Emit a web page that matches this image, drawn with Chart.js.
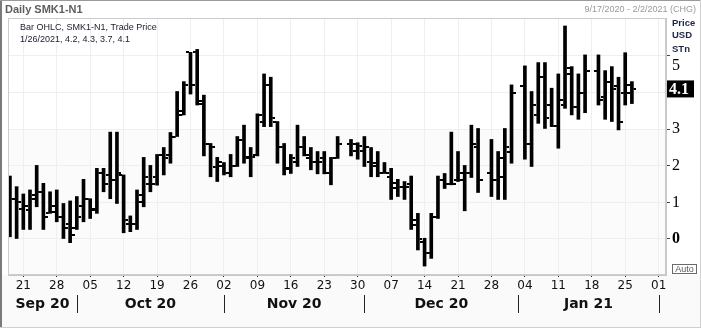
<!DOCTYPE html>
<html>
<head>
<meta charset="utf-8">
<script src="https://cdn.jsdelivr.net/npm/chart.js@4.4.1/dist/chart.umd.min.js"></script>
<style>
  html, body { margin: 0; padding: 0; background: #fff; }
  #wrap { width: 701px; height: 331px; }
</style>
</head>
<body>
<div id="wrap"><canvas id="chart" width="701" height="331"></canvas></div>
<script>
// daily OHLC, SMK1-N1 (exchange holidays are simply not in the list)
const dates = [
  '2020-09-17','2020-09-18',
  '2020-09-21','2020-09-22','2020-09-23','2020-09-24','2020-09-25',
  '2020-09-28','2020-09-29','2020-09-30','2020-10-01','2020-10-02',
  '2020-10-05','2020-10-06','2020-10-07','2020-10-08','2020-10-09',
  '2020-10-12','2020-10-13','2020-10-14','2020-10-15','2020-10-16',
  '2020-10-19','2020-10-20','2020-10-21','2020-10-22','2020-10-23',
  '2020-10-26','2020-10-27','2020-10-28','2020-10-29','2020-10-30',
  '2020-11-02','2020-11-03','2020-11-04','2020-11-05','2020-11-06',
  '2020-11-09','2020-11-10','2020-11-11','2020-11-12','2020-11-13',
  '2020-11-16','2020-11-17','2020-11-18','2020-11-19','2020-11-20',
  '2020-11-23','2020-11-24','2020-11-25','2020-11-27',
  '2020-11-30','2020-12-01','2020-12-02','2020-12-03','2020-12-04',
  '2020-12-07','2020-12-08','2020-12-09','2020-12-10','2020-12-11',
  '2020-12-14','2020-12-15','2020-12-16','2020-12-17','2020-12-18',
  '2020-12-21','2020-12-22','2020-12-23','2020-12-24',
  '2020-12-28','2020-12-29','2020-12-30','2020-12-31',
  '2021-01-04','2021-01-05','2021-01-06','2021-01-07','2021-01-08',
  '2021-01-11','2021-01-12','2021-01-13','2021-01-14','2021-01-15',
  '2021-01-19','2021-01-20','2021-01-21','2021-01-22',
  '2021-01-25','2021-01-26'
];
const openP = [
  1.3, 1.1,
  0.81, 0.8, 1.2, 1.29, 0.7,
  0.9, 0.6, 0.4, 0.3, 0.9,
  1.1, 0.8, 1.8, 1.75, 1.6,
  1.75, 0.4, 0.4, 1.2, 1.5,
  1.7, 2.3, 2.3, 2.8, 3.4,
  5.1, 5.1, 3.7, 2.6, 1.96,
  2.0, 1.8, 2.0, 2.7, 2.2,
  2.3, 3.2, 4.2, 3.2, 2.5,
  1.9, 2.1, 2.5, 2.2, 2.1,
  2.2, 1.8, 2.2, 2.6,
  2.4, 2.4, 2.1, 2.0, 1.8,
  1.7, 1.4, 1.43, 1.5, 0.52,
  -0.07, -0.37, 0.6, 1.6, 1.5,
  1.6, 1.79, 1.8, 2.5,
  1.79, 1.6, 1.7, 2.39,
  4.18, 2.6, 3.39, 4.42, 3.67,
  3.1, 3.67, 4.66, 3.6, 4.0,
  4.6, 3.89, 4.3, 4.18,
  4.0, 4.2
];
const highP = [
  1.72, 1.43,
  1.23, 1.34, 2.01, 1.52, 1.29,
  1.34, 0.97, 1.04, 1.16, 1.63,
  1.10, 1.93, 1.93, 2.92, 2.92,
  1.75, 0.63, 1.34, 2.23, 2.01,
  2.31, 2.50, 2.91, 4.03, 4.30,
  5.10, 5.18, 3.93, 2.61, 2.23,
  2.09, 2.31, 2.80, 3.11, 2.50,
  3.42, 4.51, 4.42, 3.21, 2.61,
  2.31, 3.11, 2.80, 2.50, 2.39,
  2.39, 2.23, 2.80, 2.72,
  2.63, 2.80, 2.50, 2.39, 2.09,
  1.93, 1.63, 1.57, 1.72, 0.70,
  0.02, 0.70, 1.72, 1.79, 2.92,
  2.39, 2.01, 3.11, 3.02,
  2.72, 2.39, 3.02, 4.21,
  4.73, 4.03, 4.82, 4.82, 4.12,
  4.51, 5.82, 4.71, 4.51, 5.03,
  5.03, 4.60, 4.71, 4.42,
  5.09, 4.3
];
const lowP = [
  0.06, 0.0,
  0.26, 0.26, 0.88, 0.26, 0.70,
  0.47, 0.0, -0.1, 0.26, 0.47,
  0.56, 0.70, 1.29, 1.10, 0.97,
  0.17, 0.2, 0.26, 0.88, 1.29,
  1.47, 1.75, 2.07, 2.80, 3.39,
  3.96, 3.66, 2.27, 1.70, 1.57,
  1.75, 1.70, 1.98, 2.07, 1.70,
  2.27, 3.07, 3.07, 2.07, 1.75,
  1.79, 1.98, 2.27, 1.89, 1.78,
  1.78, 1.48, 2.20, 2.27,
  2.18, 1.98, 1.70, 1.70, 1.79,
  1.08, 1.16, 1.08, 0.26, -0.30,
  -0.74, -0.53, 0.56, 1.38, 1.48,
  1.57, 0.77, 1.68, 1.27,
  1.16, 1.08, 1.08, 2.07,
  2.18, 1.98, 3.16, 3.02, 3.07,
  2.48, 3.57, 3.39, 3.27, 3.45,
  3.66, 3.27, 3.21, 2.98,
  3.66, 3.7
];
const closeP = [
  1.1, 1.0,
  0.9, 1.1, 1.29, 0.61, 0.75,
  0.6, 0.3, 0.1, 0.6, 1.1,
  0.81, 1.79, 1.5, 1.6, 1.79,
  0.52, 0.4, 1.0, 1.7, 1.5,
  2.29, 2.2, 2.8, 3.5, 4.2,
  4.2, 3.78, 2.6, 2.5, 2.09,
  1.8, 1.99, 2.7, 2.23, 2.23,
  3.39, 4.2, 3.3, 2.5, 1.93,
  2.2, 2.5, 2.3, 2.09, 2.09,
  1.8, 2.2, 2.6, 2.6,
  2.55, 2.5, 2.07, 1.79, 1.79,
  1.52, 1.43, 1.43, 0.38, 0.0,
  -0.37, 0.6, 1.61, 1.5, 1.5,
  1.61, 1.8, 2.6, 1.61,
  1.61, 2.2, 2.5, 3.98,
  2.6, 3.67, 4.42, 3.3, 3.1,
  3.8, 4.5, 3.6, 4.0, 4.6,
  3.8, 4.3, 4.09, 3.21,
  4.0, 4.1
];
const weekLabels = ['21','28','05','12','19','26','02','09','16','23','30','07','14','21','28','04','11','18','25','01'];
const firstMonday = '2020-09-21';
const monthLabels = ['Sep 20','Oct 20','Nov 20','Dec 20','Jan 21'];
const monthEnds = ['2020-10-01','2020-11-01','2020-12-01','2021-01-01','2021-02-01'];
const yTicks = [0, 1, 2, 3, 4, 5];
const lastPrice = 4.1;

// x = count of weekdays since the first session
const START = Date.UTC(2020, 8, 17);
function slot(iso) {
  const end = Date.parse(iso + 'T00:00:00Z');
  let n = 0;
  for (let t = START; t < end; t += 86400000) {
    const wd = new Date(t).getUTCDay();
    if (wd !== 0 && wd !== 6) n++;
  }
  return n;
}
const xs = dates.map(slot);
const mondaySlot = slot(firstMonday);
const weekSlots = weekLabels.map((_, k) => mondaySlot + 5 * k);
const monthBounds = monthEnds.map(slot);

function tickMark(side) {
  const c = document.createElement('canvas');
  c.width = 9; c.height = 2;
  const g = c.getContext('2d');
  g.fillStyle = '#000';
  g.fillRect(side === 'left' ? 0 : 6, 0, 3, 2);
  return c;
}

const frame = {
  id: 'frame',
  beforeDraw(chart) {
    const { ctx, chartArea: a, width, height } = chart;
    const y = chart.scales.y;
    ctx.save();
    ctx.fillStyle = '#ffffff';
    ctx.fillRect(0, 0, width, height);
    ctx.fillStyle = '#fafafa';
    ctx.fillRect(0, a.bottom, width, 327 - a.bottom);
    const shadeTop = y.getPixelForValue(3);
    ctx.fillStyle = '#fbfbfb';
    ctx.fillRect(a.left, shadeTop, a.right - a.left, a.bottom - shadeTop);
    ctx.restore();
  },
  afterDraw(chart) {
    const { ctx, chartArea: a, width } = chart;
    const x = chart.scales.x, y = chart.scales.y;
    ctx.save();
    // outer frame
    ctx.fillStyle = '#7a7a7a';
    ctx.fillRect(0, 0, 2, 328);
    ctx.fillStyle = '#9a9a9a';
    ctx.fillRect(0, 0, width, 1);
    ctx.fillStyle = '#d0d0d0';
    ctx.fillRect(0, 327, width, 1);
    ctx.fillRect(width - 1, 0, 1, 328);
    // plot box
    ctx.strokeStyle = '#cccccc';
    ctx.lineWidth = 1;
    ctx.strokeRect(a.left + 0.5, a.top + 0.5, a.right - a.left - 1, a.bottom - a.top - 1);

    // header texts
    ctx.textBaseline = 'middle';
    ctx.textAlign = 'left';
    ctx.fillStyle = '#5e5e5e';
    ctx.font = 'bold 11px "Liberation Sans"';
    ctx.fillText('Daily SMK1-N1', 5, 10);
    ctx.textAlign = 'right';
    ctx.fillStyle = '#9a9a9a';
    ctx.font = '9px "Liberation Sans"';
    ctx.fillText('9/17/2020 - 2/2/2021 (CHG)', 696, 9.5);

    // legend inside plot
    ctx.textAlign = 'left';
    ctx.fillStyle = '#1c1c2c';
    ctx.font = '9px "Liberation Sans"';
    ctx.fillText('Bar OHLC, SMK1-N1, Trade Price', 20, 28);
    const n = dates.length - 1;
    const d = new Date(dates[n] + 'T00:00:00Z');
    ctx.fillText((d.getUTCMonth() + 1) + '/' + d.getUTCDate() + '/' + d.getUTCFullYear() + ', ' +
      [openP[n], highP[n], lowP[n], closeP[n]].join(', '), 20, 40);

    // price axis
    ctx.fillStyle = '#1e2640';
    ctx.font = 'bold 9.5px "Liberation Sans"';
    ctx.fillText('Price', 672, 23.5);
    ctx.fillText('USD', 672, 35.5);
    ctx.fillText('STn', 672, 49);
    ctx.fillStyle = '#000';
    yTicks.forEach(v => {
      const py = Math.max(y.getPixelForValue(v), 65.5);
      ctx.font = (v === 0 ? 'bold ' : '') + '16px "Liberation Serif"';
      ctx.fillText(String(v), 672, py);
    });
    const pl = y.getPixelForValue(lastPrice);
    ctx.fillStyle = '#000';
    ctx.fillRect(667, pl - 8.5, 27, 17);
    ctx.fillStyle = '#fff';
    ctx.font = 'bold 16px "Liberation Serif"';
    ctx.fillText(lastPrice.toFixed(1), 669, pl + 0.5);

    // Auto box
    ctx.strokeStyle = '#6a6a6a';
    ctx.strokeRect(672.5, 264.5, 24, 9);
    ctx.fillStyle = '#555';
    ctx.font = '9px "Liberation Sans"';
    ctx.textAlign = 'center';
    ctx.fillText('Auto', 684.5, 269.5);

    // month row
    ctx.fillStyle = '#111';
    ctx.font = 'bold 14px "DejaVu Sans"';
    let left = a.left;
    monthLabels.forEach((m, k) => {
      const right = Math.min(x.getPixelForValue(monthBounds[k]), a.right);
      ctx.fillText(m, (left + right) / 2, 304);
      left = right;
    });
    ctx.fillStyle = '#222';
    monthBounds.forEach(b => {
      const px = Math.round(x.getPixelForValue(b));
      ctx.fillRect(px, 295, 1, 18);
    });
    ctx.restore();
  }
};

new Chart(document.getElementById('chart'), {
  type: 'bar',
  data: {
    datasets: [
      {
        label: 'High-Low',
        data: xs.map((x, i) => ({ x: x, y: [lowP[i], highP[i]] })),
        backgroundColor: '#000',
        borderWidth: 0,
        barThickness: 3
      },
      {
        type: 'scatter',
        label: 'Open',
        data: xs.map((x, i) => ({ x: x, y: openP[i] })),
        pointStyle: tickMark('left'),
        pointRadius: 4,
        showLine: false
      },
      {
        type: 'scatter',
        label: 'Close',
        data: xs.map((x, i) => ({ x: x, y: closeP[i] })),
        pointStyle: tickMark('right'),
        pointRadius: 4,
        showLine: false
      }
    ]
  },
  options: {
    responsive: false,
    devicePixelRatio: 1,
    animation: false,
    events: [],
    layout: { padding: { left: 8, top: 18, right: 0, bottom: 0 } },
    plugins: { legend: { display: false }, tooltip: { enabled: false } },
    scales: {
      x: {
        type: 'linear',
        min: -0.29,
        max: 98.1,
        offset: false,
        afterBuildTicks: s => { s.ticks = weekSlots.map(v => ({ value: v })); },
        afterFit: s => { s.height = 56; },
        grid: { offset: false, color: '#efefef', tickColor: '#222', tickLength: 2 },
        border: { color: '#c8c8c8' },
        ticks: {
          autoSkip: false,
          maxRotation: 0,
          padding: 2,
          color: '#111',
          font: { family: 'DejaVu Sans', size: 12 },
          callback: v => weekLabels[weekSlots.indexOf(v)]
        }
      },
      y: {
        position: 'right',
        min: -0.984,
        max: 6.038,
        afterBuildTicks: s => { s.ticks = yTicks.map(v => ({ value: v })); },
        afterFit: s => { s.width = 35; },
        grid: { color: '#efefef', tickColor: '#444', tickLength: 4 },
        border: { color: '#c8c8c8' },
        ticks: { display: false }
      }
    }
  },
  plugins: [frame]
});
</script>
</body>
</html>
